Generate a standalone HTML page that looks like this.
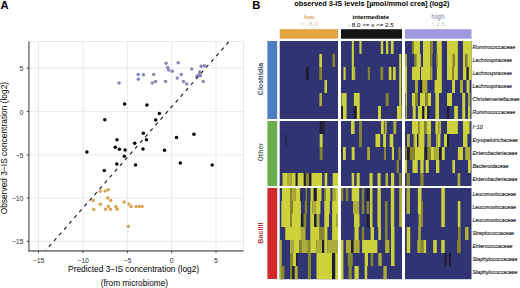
<!DOCTYPE html>
<html><head><meta charset="utf-8"><style>
html,body{margin:0;padding:0;background:#fff;}
svg{display:block;font-family:"Liberation Sans",sans-serif;}
</style></head><body>
<svg width="520" height="288" viewBox="0 0 520 288">
<rect x="0" y="0" width="520" height="288" fill="#fff"/>
<line x1="38.5" y1="41.5" x2="38.5" y2="250.9" stroke="#e6e6e6" stroke-width="0.9"/>
<line x1="83.0" y1="41.5" x2="83.0" y2="250.9" stroke="#e6e6e6" stroke-width="0.9"/>
<line x1="127.4" y1="41.5" x2="127.4" y2="250.9" stroke="#e6e6e6" stroke-width="0.9"/>
<line x1="171.7" y1="41.5" x2="171.7" y2="250.9" stroke="#e6e6e6" stroke-width="0.9"/>
<line x1="216.0" y1="41.5" x2="216.0" y2="250.9" stroke="#e6e6e6" stroke-width="0.9"/>
<line x1="28.9" y1="68.2" x2="243.5" y2="68.2" stroke="#e6e6e6" stroke-width="0.9"/>
<line x1="28.9" y1="111.6" x2="243.5" y2="111.6" stroke="#e6e6e6" stroke-width="0.9"/>
<line x1="28.9" y1="154.9" x2="243.5" y2="154.9" stroke="#e6e6e6" stroke-width="0.9"/>
<line x1="28.9" y1="198.1" x2="243.5" y2="198.1" stroke="#e6e6e6" stroke-width="0.9"/>
<line x1="28.9" y1="241.3" x2="243.5" y2="241.3" stroke="#e6e6e6" stroke-width="0.9"/>
<line x1="28.9" y1="41.5" x2="243.5" y2="41.5" stroke="#e6e6e6" stroke-width="0.9"/>
<line x1="243.5" y1="41.5" x2="243.5" y2="250.9" stroke="#e6e6e6" stroke-width="0.9"/>
<circle cx="119.1" cy="83.0" r="1.75" fill="#8887bb"/>
<circle cx="138.2" cy="74.4" r="1.75" fill="#8887bb"/>
<circle cx="143.4" cy="74.7" r="1.75" fill="#8887bb"/>
<circle cx="138.3" cy="79.3" r="1.75" fill="#8887bb"/>
<circle cx="153.7" cy="74.4" r="1.75" fill="#8887bb"/>
<circle cx="152.3" cy="83.0" r="1.75" fill="#8887bb"/>
<circle cx="155.6" cy="81.4" r="1.75" fill="#8887bb"/>
<circle cx="165.6" cy="81.5" r="1.75" fill="#8887bb"/>
<circle cx="166.1" cy="63.3" r="1.75" fill="#8887bb"/>
<circle cx="167.7" cy="67.6" r="1.75" fill="#8887bb"/>
<circle cx="168.7" cy="70.0" r="1.75" fill="#8887bb"/>
<circle cx="172.2" cy="71.3" r="1.75" fill="#8887bb"/>
<circle cx="178.2" cy="62.8" r="1.75" fill="#8887bb"/>
<circle cx="177.2" cy="78.1" r="1.75" fill="#8887bb"/>
<circle cx="181.2" cy="74.6" r="1.75" fill="#8887bb"/>
<circle cx="183.5" cy="81.5" r="1.75" fill="#8887bb"/>
<circle cx="186.7" cy="84.1" r="1.75" fill="#8887bb"/>
<circle cx="191.7" cy="69.0" r="1.75" fill="#8887bb"/>
<circle cx="199.6" cy="72.1" r="1.75" fill="#8887bb"/>
<circle cx="199.1" cy="74.7" r="1.75" fill="#8887bb"/>
<circle cx="197.0" cy="76.2" r="1.75" fill="#8887bb"/>
<circle cx="200.4" cy="75.7" r="1.75" fill="#8887bb"/>
<circle cx="201.2" cy="66.3" r="1.75" fill="#8887bb"/>
<circle cx="204.5" cy="65.8" r="1.75" fill="#8887bb"/>
<circle cx="203.2" cy="81.5" r="1.75" fill="#8887bb"/>
<circle cx="100.3" cy="191.2" r="1.75" fill="#dca456"/>
<circle cx="105.2" cy="191.0" r="1.75" fill="#dca456"/>
<circle cx="108.3" cy="189.8" r="1.75" fill="#dca456"/>
<circle cx="93.2" cy="200.5" r="1.75" fill="#dca456"/>
<circle cx="107.8" cy="198.0" r="1.75" fill="#dca456"/>
<circle cx="110.7" cy="200.5" r="1.75" fill="#dca456"/>
<circle cx="100.5" cy="204.3" r="1.75" fill="#dca456"/>
<circle cx="93.7" cy="209.4" r="1.75" fill="#dca456"/>
<circle cx="105.5" cy="209.2" r="1.75" fill="#dca456"/>
<circle cx="108.3" cy="206.5" r="1.75" fill="#dca456"/>
<circle cx="110.4" cy="209.2" r="1.75" fill="#dca456"/>
<circle cx="115.9" cy="206.5" r="1.75" fill="#dca456"/>
<circle cx="117.2" cy="209.2" r="1.75" fill="#dca456"/>
<circle cx="124.1" cy="202.0" r="1.75" fill="#dca456"/>
<circle cx="128.9" cy="204.1" r="1.75" fill="#dca456"/>
<circle cx="131.1" cy="206.5" r="1.75" fill="#dca456"/>
<circle cx="136.2" cy="206.5" r="1.75" fill="#dca456"/>
<circle cx="139.3" cy="206.5" r="1.75" fill="#dca456"/>
<circle cx="142.0" cy="206.5" r="1.75" fill="#dca456"/>
<circle cx="128.3" cy="226.6" r="1.75" fill="#dca456"/>
<circle cx="104.8" cy="119.8" r="1.75" fill="#000"/>
<circle cx="124.6" cy="104.1" r="1.75" fill="#000"/>
<circle cx="146.9" cy="105.1" r="1.75" fill="#000"/>
<circle cx="159.3" cy="113.6" r="1.75" fill="#000"/>
<circle cx="155.7" cy="120.0" r="1.75" fill="#000"/>
<circle cx="143.3" cy="133.3" r="1.75" fill="#000"/>
<circle cx="146.5" cy="139.7" r="1.75" fill="#000"/>
<circle cx="134.7" cy="143.2" r="1.75" fill="#000"/>
<circle cx="117.0" cy="139.7" r="1.75" fill="#000"/>
<circle cx="115.3" cy="147.2" r="1.75" fill="#000"/>
<circle cx="119.4" cy="149.3" r="1.75" fill="#000"/>
<circle cx="125.1" cy="150.1" r="1.75" fill="#000"/>
<circle cx="143.0" cy="148.9" r="1.75" fill="#000"/>
<circle cx="124.3" cy="156.2" r="1.75" fill="#000"/>
<circle cx="116.8" cy="164.0" r="1.75" fill="#000"/>
<circle cx="135.5" cy="164.9" r="1.75" fill="#000"/>
<circle cx="104.3" cy="170.4" r="1.75" fill="#000"/>
<circle cx="86.9" cy="152.1" r="1.75" fill="#000"/>
<circle cx="176.5" cy="137.6" r="1.75" fill="#000"/>
<circle cx="193.9" cy="134.2" r="1.75" fill="#000"/>
<circle cx="164.5" cy="150.2" r="1.75" fill="#000"/>
<circle cx="180.3" cy="163.1" r="1.75" fill="#000"/>
<circle cx="212.2" cy="165.1" r="1.75" fill="#000"/>
<line x1="228.7" y1="41.8" x2="45.3" y2="250.9" stroke="#1a1a1a" stroke-width="1.15" stroke-dasharray="3.6 4.09"/>
<line x1="28.9" y1="41.5" x2="28.9" y2="251.70000000000002" stroke="#808080" stroke-width="1.6"/>
<line x1="28.099999999999998" y1="250.9" x2="243.5" y2="250.9" stroke="#808080" stroke-width="1.6"/>
<line x1="26.7" y1="68.2" x2="28.9" y2="68.2" stroke="#333" stroke-width="0.9"/>
<text x="23.5" y="71.10000000000001" font-size="7" text-anchor="end" fill="#333">5</text>
<line x1="26.7" y1="111.6" x2="28.9" y2="111.6" stroke="#333" stroke-width="0.9"/>
<text x="23.5" y="114.5" font-size="7" text-anchor="end" fill="#333">0</text>
<line x1="26.7" y1="154.9" x2="28.9" y2="154.9" stroke="#333" stroke-width="0.9"/>
<text x="23.5" y="157.8" font-size="7" text-anchor="end" fill="#333">−5</text>
<line x1="26.7" y1="198.1" x2="28.9" y2="198.1" stroke="#333" stroke-width="0.9"/>
<text x="23.5" y="201.0" font-size="7" text-anchor="end" fill="#333">−10</text>
<line x1="26.7" y1="241.3" x2="28.9" y2="241.3" stroke="#333" stroke-width="0.9"/>
<text x="23.5" y="244.20000000000002" font-size="7" text-anchor="end" fill="#333">−15</text>
<line x1="38.5" y1="250.9" x2="38.5" y2="253.1" stroke="#333" stroke-width="0.9"/>
<text x="38.5" y="262.6" font-size="6.9" text-anchor="middle" fill="#333">−15</text>
<line x1="83.0" y1="250.9" x2="83.0" y2="253.1" stroke="#333" stroke-width="0.9"/>
<text x="83.0" y="262.6" font-size="6.9" text-anchor="middle" fill="#333">−10</text>
<line x1="127.4" y1="250.9" x2="127.4" y2="253.1" stroke="#333" stroke-width="0.9"/>
<text x="127.4" y="262.6" font-size="6.9" text-anchor="middle" fill="#333">−5</text>
<line x1="171.7" y1="250.9" x2="171.7" y2="253.1" stroke="#333" stroke-width="0.9"/>
<text x="171.7" y="262.6" font-size="6.9" text-anchor="middle" fill="#333">0</text>
<line x1="216.0" y1="250.9" x2="216.0" y2="253.1" stroke="#333" stroke-width="0.9"/>
<text x="216.0" y="262.6" font-size="6.9" text-anchor="middle" fill="#333">5</text>
<text x="133.6" y="272.3" font-size="8.35" text-anchor="middle" fill="#000">Predicted 3−IS concentration (log2)</text>
<text x="134.4" y="285.5" font-size="8.3" text-anchor="middle" fill="#000">(from microbiome)</text>
<text transform="translate(7.4,148.1) rotate(-90)" x="0" y="0" font-size="8.4" text-anchor="middle" fill="#000">Observed 3−IS concentration (log2)</text>
<text x="0.6" y="9" font-size="11.2" font-weight="bold">A</text>
<text x="252.3" y="8.6" font-size="11.2" font-weight="bold">B</text>
<text x="294.2" y="6.2" font-size="7.34" font-weight="bold">observed 3-IS levels [µmol/mmol crea] (log2)</text>
<text x="309" y="19.2" font-size="6.1" font-weight="bold" text-anchor="middle" fill="#d6a75a">low</text>
<text x="309" y="26.4" font-size="6.2" text-anchor="middle" fill="#c8bc9e">&lt; - 8.0</text>
<text x="370.8" y="19.2" font-size="6.17" font-weight="bold" text-anchor="middle" fill="#000">intermediate</text>
<text x="370.9" y="26.6" font-size="6.24" text-anchor="middle" fill="#000">- 8.0 &lt;= x &lt;= 2.5</text>
<text x="438" y="19.2" font-size="6.3" font-weight="bold" text-anchor="middle" fill="#a6a5b8">high</text>
<text x="438" y="26.4" font-size="6.2" text-anchor="middle" fill="#c0bfcc">&gt; 2.5</text>
<rect x="279.7" y="29.2" width="58.3" height="9.5" fill="#e4a440"/>
<rect x="341" y="29.2" width="61" height="9.5" fill="#141414"/>
<rect x="405" y="29.2" width="66.5" height="9.5" fill="#9d99dc"/>
<rect x="267.4" y="41" width="9.8" height="78" fill="#4a7fc2"/>
<rect x="267.4" y="121" width="9.8" height="65" fill="#6aae4c"/>
<rect x="267.4" y="188" width="9.8" height="91" fill="#d22a2a"/>
<text transform="translate(262.9,79.0) rotate(-90)" font-size="7.0" font-weight="bold" text-anchor="middle" fill="#435272">Clostridia</text>
<text transform="translate(262.8,152.3) rotate(-90)" font-size="6.9" font-weight="bold" text-anchor="middle" fill="#62785e">Other</text>
<text transform="translate(262.8,233.2) rotate(-90)" font-size="7.2" font-weight="bold" text-anchor="middle" fill="#b43c3c">Bacilli</text>
<rect x="279.7" y="41" width="58.30" height="78.00" fill="#303473"/>
<rect x="279.7" y="121" width="58.30" height="65.00" fill="#303473"/>
<rect x="279.7" y="188" width="58.30" height="91.20" fill="#303473"/>
<rect x="341.0" y="41" width="61.00" height="78.00" fill="#303473"/>
<rect x="341.0" y="121" width="61.00" height="65.00" fill="#303473"/>
<rect x="341.0" y="188" width="61.00" height="91.20" fill="#303473"/>
<rect x="405.0" y="41" width="66.50" height="78.00" fill="#303473"/>
<rect x="405.0" y="121" width="66.50" height="65.00" fill="#303473"/>
<rect x="405.0" y="188" width="66.50" height="91.20" fill="#303473"/>
<rect x="319.30" y="54" width="2.70" height="13.00" fill="#cdd23c"/>
<rect x="332.50" y="54" width="2.50" height="13.00" fill="#86862e"/>
<rect x="306.00" y="67" width="2.80" height="13.00" fill="#201c30"/>
<rect x="319.30" y="67" width="2.70" height="13.00" fill="#86862e"/>
<rect x="324.50" y="80" width="2.50" height="13.00" fill="#cdd23c"/>
<rect x="319.40" y="93" width="2.60" height="13.00" fill="#aeac38"/>
<rect x="319.70" y="121" width="2.90" height="13.00" fill="#201c30"/>
<rect x="323.30" y="121" width="1.30" height="13.00" fill="#201c30"/>
<rect x="285.00" y="134" width="2.00" height="13.00" fill="#262a5c"/>
<rect x="319.70" y="134" width="2.90" height="13.00" fill="#cdd23c"/>
<rect x="319.70" y="147" width="2.90" height="13.00" fill="#86862e"/>
<rect x="282.50" y="173" width="4.50" height="13.00" fill="#cdd23c"/>
<rect x="287.00" y="173" width="4.50" height="13.00" fill="#aeac38"/>
<rect x="291.50" y="173" width="4.20" height="13.00" fill="#cdd23c"/>
<rect x="295.70" y="173" width="2.00" height="13.00" fill="#201c30"/>
<rect x="297.70" y="173" width="6.10" height="13.00" fill="#cdd23c"/>
<rect x="303.80" y="173" width="2.00" height="13.00" fill="#201c30"/>
<rect x="305.80" y="173" width="3.40" height="13.00" fill="#86862e"/>
<rect x="309.20" y="173" width="2.30" height="13.00" fill="#201c30"/>
<rect x="311.50" y="173" width="10.80" height="13.00" fill="#cdd23c"/>
<rect x="322.30" y="173" width="2.30" height="13.00" fill="#303473"/>
<rect x="324.60" y="173" width="2.90" height="13.00" fill="#cdd23c"/>
<rect x="327.50" y="173" width="5.20" height="13.00" fill="#303473"/>
<rect x="332.70" y="173" width="5.30" height="13.00" fill="#cdd23c"/>
<rect x="282.00" y="188" width="8.00" height="13.00" fill="#cdd23c"/>
<rect x="290.00" y="188" width="2.00" height="13.00" fill="#86862e"/>
<rect x="292.00" y="188" width="3.70" height="13.00" fill="#aeac38"/>
<rect x="295.70" y="188" width="4.70" height="13.00" fill="#cdd23c"/>
<rect x="300.40" y="188" width="1.00" height="13.00" fill="#201c30"/>
<rect x="305.60" y="188" width="1.50" height="13.00" fill="#86862e"/>
<rect x="310.60" y="188" width="3.10" height="13.00" fill="#cdd23c"/>
<rect x="313.70" y="188" width="3.10" height="13.00" fill="#201c30"/>
<rect x="316.80" y="188" width="4.70" height="13.00" fill="#cdd23c"/>
<rect x="324.10" y="188" width="1.60" height="13.00" fill="#86862e"/>
<rect x="325.70" y="188" width="4.70" height="13.00" fill="#cdd23c"/>
<rect x="332.40" y="188" width="3.60" height="13.00" fill="#aeac38"/>
<rect x="336.00" y="188" width="2.00" height="13.00" fill="#cdd23c"/>
<rect x="281.30" y="201" width="8.70" height="13.00" fill="#cdd23c"/>
<rect x="290.00" y="201" width="3.00" height="13.00" fill="#86862e"/>
<rect x="293.00" y="201" width="7.90" height="13.00" fill="#cdd23c"/>
<rect x="304.80" y="201" width="2.30" height="13.00" fill="#86862e"/>
<rect x="310.25" y="201" width="2.35" height="13.00" fill="#cdd23c"/>
<rect x="312.60" y="201" width="3.10" height="13.00" fill="#aeac38"/>
<rect x="315.70" y="201" width="4.70" height="13.00" fill="#cdd23c"/>
<rect x="324.30" y="201" width="5.50" height="13.00" fill="#cdd23c"/>
<rect x="332.10" y="201" width="5.90" height="13.00" fill="#cdd23c"/>
<rect x="281.30" y="214" width="8.70" height="13.00" fill="#cdd23c"/>
<rect x="290.00" y="214" width="2.00" height="13.00" fill="#86862e"/>
<rect x="292.00" y="214" width="8.90" height="13.00" fill="#cdd23c"/>
<rect x="300.90" y="214" width="2.60" height="13.00" fill="#201c30"/>
<rect x="303.50" y="214" width="2.80" height="13.00" fill="#86862e"/>
<rect x="310.25" y="214" width="3.95" height="13.00" fill="#cdd23c"/>
<rect x="314.20" y="214" width="2.30" height="13.00" fill="#201c30"/>
<rect x="316.50" y="214" width="3.10" height="13.00" fill="#aeac38"/>
<rect x="324.30" y="214" width="4.70" height="13.00" fill="#cdd23c"/>
<rect x="332.10" y="214" width="4.00" height="13.00" fill="#cdd23c"/>
<rect x="336.10" y="214" width="1.90" height="13.00" fill="#aeac38"/>
<rect x="285.25" y="227" width="15.65" height="13.00" fill="#cdd23c"/>
<rect x="300.90" y="227" width="4.70" height="13.00" fill="#aeac38"/>
<rect x="310.25" y="227" width="9.35" height="13.00" fill="#cdd23c"/>
<rect x="319.60" y="227" width="4.70" height="13.00" fill="#86862e"/>
<rect x="324.30" y="227" width="3.10" height="13.00" fill="#cdd23c"/>
<rect x="332.10" y="227" width="5.90" height="13.00" fill="#cdd23c"/>
<rect x="279.70" y="240" width="2.10" height="13.00" fill="#aeac38"/>
<rect x="290.00" y="240" width="3.80" height="13.00" fill="#aeac38"/>
<rect x="293.80" y="240" width="5.50" height="13.00" fill="#cdd23c"/>
<rect x="299.30" y="240" width="2.30" height="13.00" fill="#86862e"/>
<rect x="301.60" y="240" width="6.30" height="13.00" fill="#aeac38"/>
<rect x="307.90" y="240" width="2.35" height="13.00" fill="#86862e"/>
<rect x="310.25" y="240" width="6.25" height="13.00" fill="#cdd23c"/>
<rect x="316.50" y="240" width="5.50" height="13.00" fill="#aeac38"/>
<rect x="322.00" y="240" width="2.30" height="13.00" fill="#201c30"/>
<rect x="324.30" y="240" width="3.10" height="13.00" fill="#cdd23c"/>
<rect x="327.40" y="240" width="5.60" height="13.00" fill="#aeac38"/>
<rect x="333.00" y="240" width="5.00" height="13.00" fill="#aeac38"/>
<rect x="279.70" y="253" width="2.10" height="13.00" fill="#aeac38"/>
<rect x="290.00" y="253" width="2.75" height="13.00" fill="#86862e"/>
<rect x="292.75" y="253" width="3.45" height="13.00" fill="#cdd23c"/>
<rect x="296.20" y="253" width="1.55" height="13.00" fill="#201c30"/>
<rect x="307.90" y="253" width="3.10" height="13.00" fill="#86862e"/>
<rect x="316.50" y="253" width="15.50" height="13.00" fill="#cdd23c"/>
<rect x="332.00" y="253" width="3.25" height="13.00" fill="#201c30"/>
<rect x="335.25" y="253" width="2.75" height="13.00" fill="#cdd23c"/>
<rect x="279.70" y="266" width="2.10" height="13.20" fill="#aeac38"/>
<rect x="281.80" y="266" width="2.70" height="13.20" fill="#86862e"/>
<rect x="290.00" y="266" width="2.30" height="13.20" fill="#86862e"/>
<rect x="292.30" y="266" width="2.30" height="13.20" fill="#201c30"/>
<rect x="294.60" y="266" width="3.15" height="13.20" fill="#aeac38"/>
<rect x="307.90" y="266" width="3.10" height="13.20" fill="#86862e"/>
<rect x="316.50" y="266" width="15.50" height="13.20" fill="#cdd23c"/>
<rect x="332.00" y="266" width="3.25" height="13.20" fill="#201c30"/>
<rect x="335.25" y="266" width="2.75" height="13.20" fill="#cdd23c"/>
<rect x="351.80" y="41" width="2.10" height="39.00" fill="#cdd23c"/>
<rect x="359.40" y="41" width="2.10" height="13.00" fill="#cdd23c"/>
<rect x="343.50" y="67" width="2.10" height="13.00" fill="#cdd23c"/>
<rect x="353.90" y="67" width="1.40" height="13.00" fill="#aeac38"/>
<rect x="367.80" y="67" width="2.10" height="13.00" fill="#86862e"/>
<rect x="380.80" y="41" width="2.40" height="13.00" fill="#cdd23c"/>
<rect x="386.00" y="41" width="2.30" height="13.00" fill="#cdd23c"/>
<rect x="390.80" y="41" width="2.80" height="13.00" fill="#cdd23c"/>
<rect x="399.20" y="54" width="2.10" height="65.00" fill="#cdd23c"/>
<rect x="380.40" y="67" width="2.80" height="13.00" fill="#86862e"/>
<rect x="388.75" y="67" width="2.75" height="13.00" fill="#cdd23c"/>
<rect x="392.90" y="67" width="2.80" height="13.00" fill="#cdd23c"/>
<rect x="341.50" y="93" width="5.10" height="13.00" fill="#cdd23c"/>
<rect x="353.90" y="93" width="5.80" height="13.00" fill="#cdd23c"/>
<rect x="341.50" y="106" width="1.50" height="13.00" fill="#201c30"/>
<rect x="343.00" y="106" width="3.60" height="13.00" fill="#cdd23c"/>
<rect x="353.90" y="106" width="2.90" height="13.00" fill="#201c30"/>
<rect x="356.80" y="106" width="2.90" height="13.00" fill="#cdd23c"/>
<rect x="385.75" y="93" width="2.95" height="13.00" fill="#86862e"/>
<rect x="378.00" y="106" width="3.00" height="13.00" fill="#cdd23c"/>
<rect x="397.00" y="106" width="4.40" height="13.00" fill="#cdd23c"/>
<rect x="351.00" y="121" width="3.60" height="13.00" fill="#cdd23c"/>
<rect x="359.00" y="121" width="2.90" height="26.00" fill="#86862e"/>
<rect x="343.00" y="147" width="2.80" height="13.00" fill="#cdd23c"/>
<rect x="351.70" y="147" width="2.90" height="13.00" fill="#cdd23c"/>
<rect x="367.20" y="147" width="2.70" height="13.00" fill="#aeac38"/>
<rect x="381.00" y="121" width="2.90" height="13.00" fill="#cdd23c"/>
<rect x="384.60" y="121" width="2.20" height="13.00" fill="#aeac38"/>
<rect x="393.30" y="121" width="2.95" height="13.00" fill="#aeac38"/>
<rect x="375.50" y="134" width="4.70" height="13.00" fill="#cdd23c"/>
<rect x="383.10" y="134" width="2.90" height="13.00" fill="#cdd23c"/>
<rect x="389.70" y="134" width="3.60" height="13.00" fill="#cdd23c"/>
<rect x="383.90" y="147" width="2.10" height="13.00" fill="#86862e"/>
<rect x="391.90" y="147" width="2.10" height="13.00" fill="#cdd23c"/>
<rect x="398.40" y="147" width="2.20" height="13.00" fill="#86862e"/>
<rect x="396.60" y="160" width="2.40" height="13.00" fill="#86862e"/>
<rect x="351.70" y="173" width="2.50" height="13.00" fill="#cdd23c"/>
<rect x="356.60" y="173" width="3.10" height="13.00" fill="#cdd23c"/>
<rect x="369.50" y="173" width="3.10" height="13.00" fill="#cdd23c"/>
<rect x="377.50" y="173" width="3.10" height="13.00" fill="#cdd23c"/>
<rect x="385.50" y="173" width="2.50" height="13.00" fill="#aeac38"/>
<rect x="391.00" y="173" width="3.20" height="13.00" fill="#cdd23c"/>
<rect x="399.00" y="173" width="2.50" height="13.00" fill="#86862e"/>
<rect x="341.00" y="188" width="2.30" height="13.00" fill="#86862e"/>
<rect x="345.80" y="188" width="2.50" height="13.00" fill="#86862e"/>
<rect x="351.70" y="188" width="7.50" height="13.00" fill="#cdd23c"/>
<rect x="361.70" y="188" width="2.50" height="13.00" fill="#86862e"/>
<rect x="366.70" y="188" width="2.50" height="13.00" fill="#201c30"/>
<rect x="370.00" y="188" width="2.50" height="13.00" fill="#cdd23c"/>
<rect x="377.50" y="188" width="3.30" height="13.00" fill="#cdd23c"/>
<rect x="390.80" y="188" width="3.40" height="13.00" fill="#cdd23c"/>
<rect x="399.20" y="188" width="2.80" height="13.00" fill="#aeac38"/>
<rect x="353.00" y="201" width="6.20" height="13.00" fill="#aeac38"/>
<rect x="361.70" y="201" width="2.50" height="13.00" fill="#86862e"/>
<rect x="366.70" y="201" width="2.50" height="13.00" fill="#86862e"/>
<rect x="370.00" y="201" width="2.50" height="13.00" fill="#cdd23c"/>
<rect x="377.50" y="201" width="3.30" height="13.00" fill="#cdd23c"/>
<rect x="385.00" y="201" width="2.50" height="13.00" fill="#86862e"/>
<rect x="390.80" y="201" width="3.40" height="13.00" fill="#cdd23c"/>
<rect x="399.20" y="201" width="2.80" height="13.00" fill="#aeac38"/>
<rect x="354.00" y="214" width="5.50" height="13.00" fill="#cdd23c"/>
<rect x="366.70" y="214" width="2.50" height="13.00" fill="#201c30"/>
<rect x="370.00" y="214" width="2.50" height="13.00" fill="#cdd23c"/>
<rect x="377.50" y="214" width="3.30" height="13.00" fill="#cdd23c"/>
<rect x="385.00" y="214" width="2.50" height="13.00" fill="#86862e"/>
<rect x="390.80" y="214" width="3.40" height="13.00" fill="#cdd23c"/>
<rect x="399.20" y="214" width="2.80" height="13.00" fill="#aeac38"/>
<rect x="354.50" y="227" width="4.20" height="13.00" fill="#cdd23c"/>
<rect x="361.70" y="227" width="2.50" height="13.00" fill="#86862e"/>
<rect x="370.60" y="227" width="3.40" height="13.00" fill="#cdd23c"/>
<rect x="378.30" y="227" width="2.60" height="13.00" fill="#cdd23c"/>
<rect x="385.00" y="227" width="2.50" height="13.00" fill="#86862e"/>
<rect x="391.00" y="227" width="3.50" height="13.00" fill="#cdd23c"/>
<rect x="341.00" y="240" width="2.40" height="13.00" fill="#cdd23c"/>
<rect x="346.00" y="240" width="5.00" height="13.00" fill="#aeac38"/>
<rect x="351.00" y="240" width="2.60" height="13.00" fill="#201c30"/>
<rect x="353.60" y="240" width="6.00" height="13.00" fill="#aeac38"/>
<rect x="362.10" y="240" width="15.30" height="13.00" fill="#cdd23c"/>
<rect x="385.10" y="240" width="4.30" height="13.00" fill="#aeac38"/>
<rect x="391.00" y="240" width="3.50" height="13.00" fill="#cdd23c"/>
<rect x="341.00" y="253" width="2.40" height="13.00" fill="#cdd23c"/>
<rect x="347.70" y="253" width="5.10" height="13.00" fill="#86862e"/>
<rect x="364.70" y="253" width="3.30" height="13.00" fill="#cdd23c"/>
<rect x="370.60" y="253" width="2.60" height="13.00" fill="#86862e"/>
<rect x="378.30" y="253" width="3.40" height="13.00" fill="#aeac38"/>
<rect x="391.00" y="253" width="3.50" height="13.00" fill="#cdd23c"/>
<rect x="341.00" y="266" width="2.40" height="13.20" fill="#cdd23c"/>
<rect x="348.50" y="266" width="3.40" height="13.20" fill="#86862e"/>
<rect x="354.50" y="266" width="4.20" height="13.20" fill="#cdd23c"/>
<rect x="364.70" y="266" width="2.50" height="13.20" fill="#cdd23c"/>
<rect x="383.40" y="266" width="3.40" height="13.20" fill="#aeac38"/>
<rect x="412.00" y="41" width="2.00" height="13.00" fill="#86862e"/>
<rect x="414.00" y="41" width="6.00" height="13.00" fill="#cdd23c"/>
<rect x="423.00" y="41" width="7.25" height="13.00" fill="#cdd23c"/>
<rect x="430.25" y="41" width="2.75" height="13.00" fill="#86862e"/>
<rect x="436.80" y="41" width="5.00" height="13.00" fill="#cdd23c"/>
<rect x="447.00" y="41" width="10.90" height="13.00" fill="#cdd23c"/>
<rect x="463.00" y="41" width="8.50" height="13.00" fill="#cdd23c"/>
<rect x="405.00" y="54" width="2.00" height="13.00" fill="#aeac38"/>
<rect x="414.20" y="54" width="2.20" height="13.00" fill="#86862e"/>
<rect x="416.40" y="54" width="4.40" height="13.00" fill="#cdd23c"/>
<rect x="423.00" y="54" width="7.25" height="13.00" fill="#cdd23c"/>
<rect x="430.25" y="54" width="2.15" height="13.00" fill="#86862e"/>
<rect x="436.00" y="54" width="1.50" height="13.00" fill="#86862e"/>
<rect x="437.50" y="54" width="4.30" height="13.00" fill="#cdd23c"/>
<rect x="447.00" y="54" width="5.80" height="13.00" fill="#cdd23c"/>
<rect x="452.80" y="54" width="2.20" height="13.00" fill="#86862e"/>
<rect x="455.00" y="54" width="2.90" height="13.00" fill="#cdd23c"/>
<rect x="463.00" y="54" width="2.20" height="13.00" fill="#cdd23c"/>
<rect x="465.20" y="54" width="2.20" height="13.00" fill="#86862e"/>
<rect x="467.40" y="54" width="4.10" height="13.00" fill="#cdd23c"/>
<rect x="405.00" y="67" width="2.00" height="13.00" fill="#cdd23c"/>
<rect x="412.00" y="67" width="8.00" height="13.00" fill="#cdd23c"/>
<rect x="421.00" y="67" width="9.25" height="13.00" fill="#cdd23c"/>
<rect x="430.25" y="67" width="2.15" height="13.00" fill="#aeac38"/>
<rect x="436.80" y="67" width="5.00" height="13.00" fill="#cdd23c"/>
<rect x="447.00" y="67" width="5.00" height="13.00" fill="#cdd23c"/>
<rect x="452.00" y="67" width="2.00" height="13.00" fill="#86862e"/>
<rect x="454.00" y="67" width="3.90" height="13.00" fill="#cdd23c"/>
<rect x="463.00" y="67" width="3.60" height="13.00" fill="#cdd23c"/>
<rect x="466.60" y="67" width="2.20" height="13.00" fill="#201c30"/>
<rect x="468.80" y="67" width="2.70" height="13.00" fill="#cdd23c"/>
<rect x="405.00" y="80" width="2.00" height="13.00" fill="#cdd23c"/>
<rect x="415.00" y="80" width="2.90" height="13.00" fill="#aeac38"/>
<rect x="420.00" y="80" width="2.20" height="13.00" fill="#201c30"/>
<rect x="422.20" y="80" width="5.10" height="13.00" fill="#aeac38"/>
<rect x="434.60" y="80" width="7.20" height="13.00" fill="#cdd23c"/>
<rect x="452.00" y="80" width="3.00" height="13.00" fill="#cdd23c"/>
<rect x="460.00" y="80" width="3.00" height="13.00" fill="#aeac38"/>
<rect x="466.60" y="80" width="2.90" height="13.00" fill="#cdd23c"/>
<rect x="405.50" y="93" width="1.50" height="13.00" fill="#cdd23c"/>
<rect x="412.00" y="93" width="3.00" height="13.00" fill="#cdd23c"/>
<rect x="415.00" y="93" width="2.90" height="13.00" fill="#86862e"/>
<rect x="420.00" y="93" width="5.10" height="13.00" fill="#cdd23c"/>
<rect x="425.10" y="93" width="2.90" height="13.00" fill="#86862e"/>
<rect x="428.00" y="93" width="3.00" height="13.00" fill="#cdd23c"/>
<rect x="435.40" y="93" width="3.60" height="13.00" fill="#cdd23c"/>
<rect x="447.00" y="93" width="5.00" height="13.00" fill="#cdd23c"/>
<rect x="462.25" y="93" width="2.95" height="13.00" fill="#cdd23c"/>
<rect x="468.00" y="93" width="2.30" height="13.00" fill="#aeac38"/>
<rect x="405.50" y="106" width="1.50" height="13.00" fill="#aeac38"/>
<rect x="412.75" y="106" width="2.95" height="13.00" fill="#cdd23c"/>
<rect x="417.90" y="106" width="4.30" height="13.00" fill="#cdd23c"/>
<rect x="422.20" y="106" width="2.20" height="13.00" fill="#201c30"/>
<rect x="424.40" y="106" width="2.90" height="13.00" fill="#cdd23c"/>
<rect x="427.30" y="106" width="1.70" height="13.00" fill="#201c30"/>
<rect x="435.40" y="106" width="3.60" height="13.00" fill="#cdd23c"/>
<rect x="447.00" y="106" width="2.00" height="13.00" fill="#201c30"/>
<rect x="454.20" y="106" width="3.70" height="13.00" fill="#cdd23c"/>
<rect x="462.25" y="106" width="2.95" height="13.00" fill="#cdd23c"/>
<rect x="468.00" y="106" width="2.30" height="13.00" fill="#cdd23c"/>
<rect x="412.00" y="121" width="6.00" height="13.00" fill="#cdd23c"/>
<rect x="418.00" y="121" width="1.50" height="13.00" fill="#86862e"/>
<rect x="419.50" y="121" width="4.90" height="13.00" fill="#cdd23c"/>
<rect x="424.40" y="121" width="2.20" height="13.00" fill="#86862e"/>
<rect x="426.60" y="121" width="4.40" height="13.00" fill="#cdd23c"/>
<rect x="435.40" y="121" width="2.80" height="13.00" fill="#cdd23c"/>
<rect x="438.20" y="121" width="2.90" height="13.00" fill="#aeac38"/>
<rect x="447.00" y="121" width="10.90" height="13.00" fill="#cdd23c"/>
<rect x="463.00" y="121" width="6.50" height="13.00" fill="#cdd23c"/>
<rect x="469.50" y="121" width="0.80" height="13.00" fill="#86862e"/>
<rect x="407.00" y="134" width="2.80" height="13.00" fill="#aeac38"/>
<rect x="413.50" y="134" width="1.50" height="13.00" fill="#aeac38"/>
<rect x="415.00" y="134" width="2.00" height="13.00" fill="#cdd23c"/>
<rect x="417.00" y="134" width="1.50" height="13.00" fill="#201c30"/>
<rect x="418.50" y="134" width="5.90" height="13.00" fill="#cdd23c"/>
<rect x="427.30" y="134" width="3.70" height="13.00" fill="#aeac38"/>
<rect x="436.00" y="134" width="1.50" height="13.00" fill="#aeac38"/>
<rect x="437.50" y="134" width="2.90" height="13.00" fill="#cdd23c"/>
<rect x="444.00" y="134" width="3.00" height="13.00" fill="#cdd23c"/>
<rect x="447.00" y="134" width="2.00" height="13.00" fill="#201c30"/>
<rect x="463.00" y="134" width="4.40" height="13.00" fill="#cdd23c"/>
<rect x="405.50" y="147" width="1.50" height="13.00" fill="#86862e"/>
<rect x="407.00" y="147" width="2.80" height="13.00" fill="#201c30"/>
<rect x="409.80" y="147" width="5.20" height="13.00" fill="#86862e"/>
<rect x="415.00" y="147" width="9.40" height="13.00" fill="#cdd23c"/>
<rect x="424.40" y="147" width="2.90" height="13.00" fill="#201c30"/>
<rect x="427.30" y="147" width="3.70" height="13.00" fill="#86862e"/>
<rect x="431.00" y="147" width="3.60" height="13.00" fill="#cdd23c"/>
<rect x="434.60" y="147" width="4.40" height="13.00" fill="#aeac38"/>
<rect x="439.00" y="147" width="2.80" height="13.00" fill="#201c30"/>
<rect x="441.80" y="147" width="2.95" height="13.00" fill="#cdd23c"/>
<rect x="457.90" y="147" width="5.10" height="13.00" fill="#cdd23c"/>
<rect x="465.20" y="147" width="5.10" height="13.00" fill="#aeac38"/>
<rect x="405.00" y="160" width="2.00" height="13.00" fill="#cdd23c"/>
<rect x="412.50" y="160" width="5.20" height="13.00" fill="#cdd23c"/>
<rect x="420.30" y="160" width="3.30" height="13.00" fill="#cdd23c"/>
<rect x="425.60" y="160" width="3.20" height="13.00" fill="#cdd23c"/>
<rect x="436.00" y="160" width="3.30" height="13.00" fill="#cdd23c"/>
<rect x="452.40" y="160" width="2.60" height="13.00" fill="#cdd23c"/>
<rect x="468.00" y="160" width="2.70" height="13.00" fill="#cdd23c"/>
<rect x="406.60" y="173" width="3.30" height="13.00" fill="#86862e"/>
<rect x="420.30" y="173" width="3.30" height="13.00" fill="#86862e"/>
<rect x="457.60" y="173" width="2.60" height="13.00" fill="#aeac38"/>
<rect x="406.60" y="188" width="3.40" height="26.00" fill="#aeac38"/>
<rect x="417.90" y="188" width="3.60" height="26.00" fill="#cdd23c"/>
<rect x="421.50" y="201" width="1.50" height="26.00" fill="#86862e"/>
<rect x="418.50" y="214" width="3.00" height="13.00" fill="#aeac38"/>
<rect x="441.30" y="188" width="3.50" height="39.00" fill="#cdd23c"/>
<rect x="457.80" y="201" width="2.60" height="26.00" fill="#cdd23c"/>
<rect x="406.70" y="227" width="3.50" height="26.00" fill="#cdd23c"/>
<rect x="418.20" y="227" width="2.60" height="13.00" fill="#aeac38"/>
<rect x="458.00" y="227" width="2.70" height="13.00" fill="#86862e"/>
<rect x="465.00" y="227" width="3.60" height="13.00" fill="#aeac38"/>
<rect x="417.30" y="240" width="3.50" height="13.00" fill="#aeac38"/>
<rect x="420.80" y="240" width="2.70" height="13.00" fill="#86862e"/>
<rect x="423.50" y="240" width="2.60" height="13.00" fill="#cdd23c"/>
<rect x="433.20" y="240" width="3.60" height="13.00" fill="#cdd23c"/>
<rect x="441.20" y="240" width="3.50" height="13.00" fill="#cdd23c"/>
<rect x="457.10" y="240" width="3.60" height="13.00" fill="#86862e"/>
<rect x="444.40" y="253" width="2.10" height="13.00" fill="#201c30"/>
<rect x="449.00" y="253" width="2.00" height="13.00" fill="#201c30"/>
<text transform="translate(472.4,49.3) scale(0.86,1)" font-size="6.05" font-style="italic" fill="#1a1a1a" stroke="#1a1a1a" stroke-width="0.14">Ruminococcaceae</text>
<text transform="translate(472.4,62.3) scale(0.86,1)" font-size="6.05" font-style="italic" fill="#1a1a1a" stroke="#1a1a1a" stroke-width="0.14">Lachnospiraceae</text>
<text transform="translate(472.4,75.3) scale(0.86,1)" font-size="6.05" font-style="italic" fill="#1a1a1a" stroke="#1a1a1a" stroke-width="0.14">Lachnospiraceae</text>
<text transform="translate(472.4,88.3) scale(0.86,1)" font-size="6.05" font-style="italic" fill="#1a1a1a" stroke="#1a1a1a" stroke-width="0.14">Lachnospiraceae</text>
<text transform="translate(472.4,101.3) scale(0.86,1)" font-size="6.05" font-style="italic" fill="#1a1a1a" stroke="#1a1a1a" stroke-width="0.14">Christensenellaceae</text>
<text transform="translate(472.4,114.3) scale(0.86,1)" font-size="6.05" font-style="italic" fill="#1a1a1a" stroke="#1a1a1a" stroke-width="0.14">Ruminococcaceae</text>
<text transform="translate(472.4,129.3) scale(0.86,1)" font-size="6.05" font-style="italic" fill="#1a1a1a" stroke="#1a1a1a" stroke-width="0.14">I−10</text>
<text transform="translate(472.4,142.3) scale(0.86,1)" font-size="6.05" font-style="italic" fill="#1a1a1a" stroke="#1a1a1a" stroke-width="0.14">Erysipelotrichaceae</text>
<text transform="translate(472.4,155.3) scale(0.86,1)" font-size="6.05" font-style="italic" fill="#1a1a1a" stroke="#1a1a1a" stroke-width="0.14">Enterobacteriaceae</text>
<text transform="translate(472.4,168.3) scale(0.86,1)" font-size="6.05" font-style="italic" fill="#1a1a1a" stroke="#1a1a1a" stroke-width="0.14">Bacteroidaceae</text>
<text transform="translate(472.4,181.3) scale(0.86,1)" font-size="6.05" font-style="italic" fill="#1a1a1a" stroke="#1a1a1a" stroke-width="0.14">Enterobacteriaceae</text>
<text transform="translate(472.4,196.3) scale(0.86,1)" font-size="6.05" font-style="italic" fill="#1a1a1a" stroke="#1a1a1a" stroke-width="0.14">Leuconostocaceae</text>
<text transform="translate(472.4,209.3) scale(0.86,1)" font-size="6.05" font-style="italic" fill="#1a1a1a" stroke="#1a1a1a" stroke-width="0.14">Leuconostocaceae</text>
<text transform="translate(472.4,222.3) scale(0.86,1)" font-size="6.05" font-style="italic" fill="#1a1a1a" stroke="#1a1a1a" stroke-width="0.14">Leuconostocaceae</text>
<text transform="translate(472.4,235.3) scale(0.86,1)" font-size="6.05" font-style="italic" fill="#1a1a1a" stroke="#1a1a1a" stroke-width="0.14">Streptococcaceae</text>
<text transform="translate(472.4,248.3) scale(0.86,1)" font-size="6.05" font-style="italic" fill="#1a1a1a" stroke="#1a1a1a" stroke-width="0.14">Enterococcaceae</text>
<text transform="translate(472.4,261.3) scale(0.86,1)" font-size="6.05" font-style="italic" fill="#1a1a1a" stroke="#1a1a1a" stroke-width="0.14">Staphylococcaceae</text>
<text transform="translate(472.4,274.3) scale(0.86,1)" font-size="6.05" font-style="italic" fill="#1a1a1a" stroke="#1a1a1a" stroke-width="0.14">Staphylococcaceae</text>
</svg>
</body></html>
